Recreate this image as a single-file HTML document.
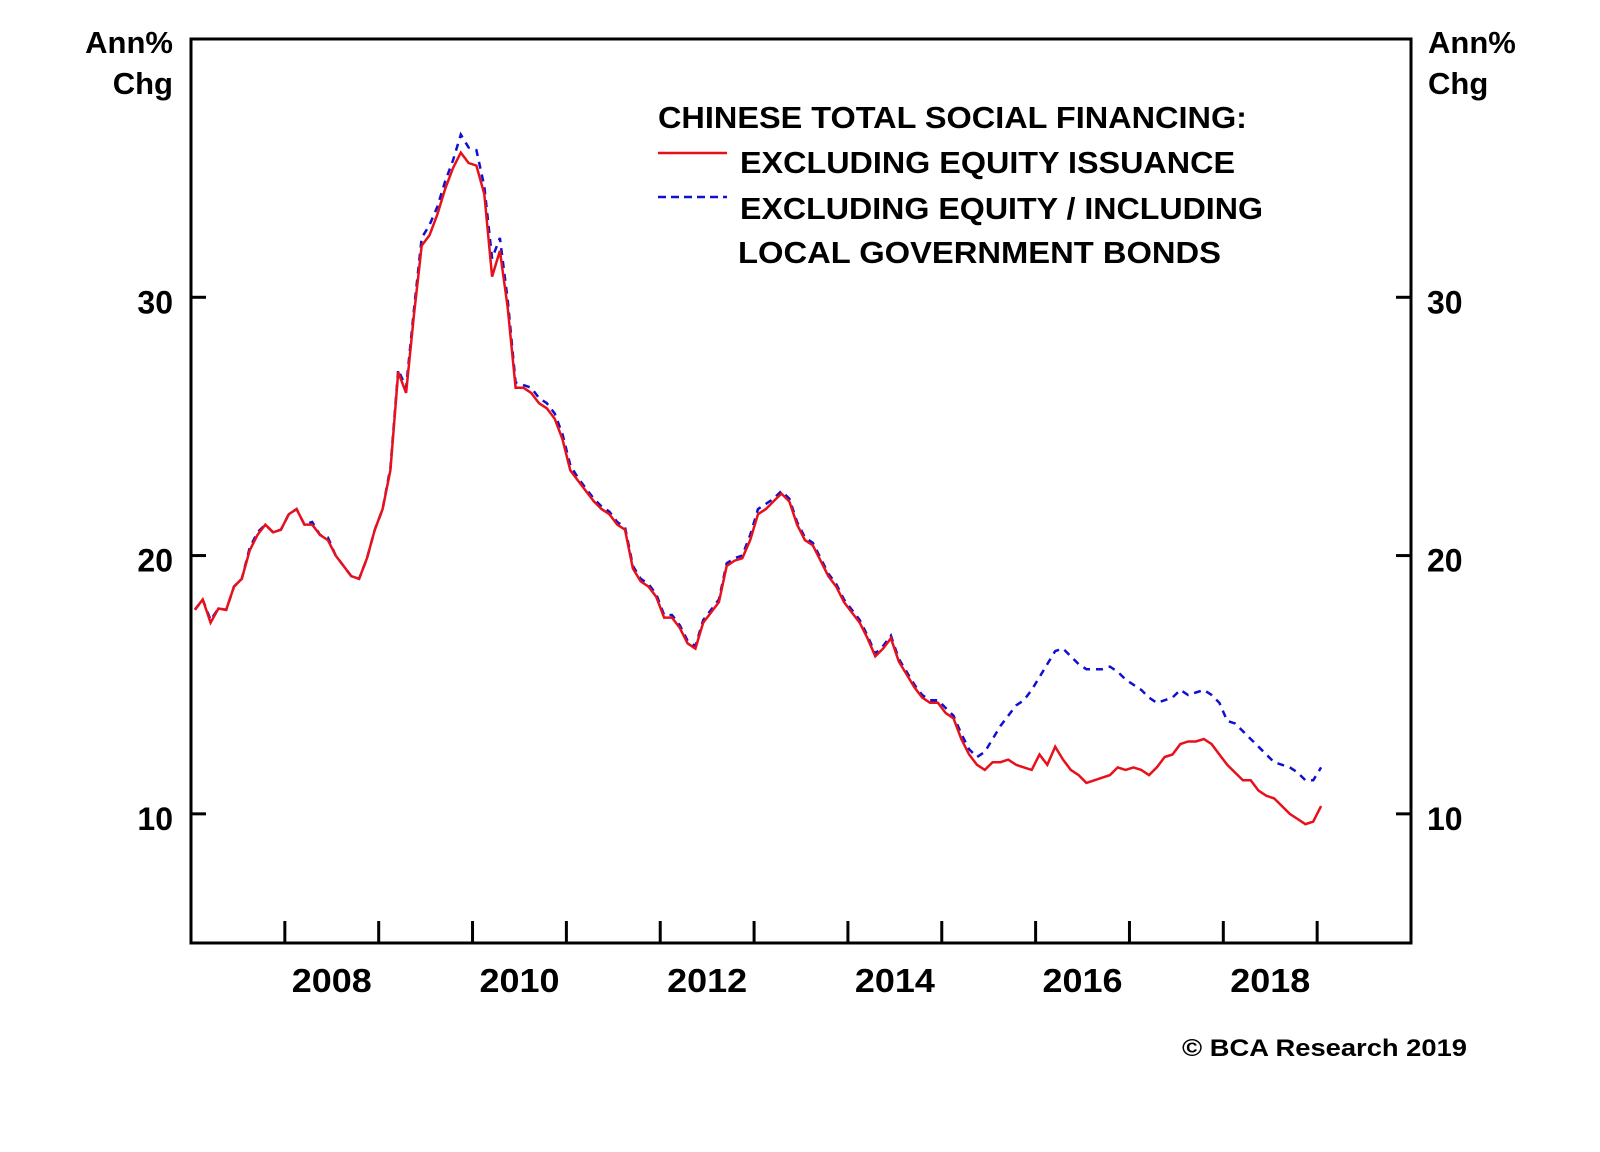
<!DOCTYPE html>
<html><head><meta charset="utf-8"><style>
html,body{margin:0;padding:0;background:#fff;}
svg{display:block;font-family:"Liberation Sans",Arial,sans-serif;font-weight:bold;}
</style></head><body>
<svg id="chart" width="1600" height="1152" viewBox="0 0 1600 1152" xmlns="http://www.w3.org/2000/svg">
<rect width="1600" height="1152" fill="#fff"/>
<g id="plot"></g>
<text x="173" y="53" text-anchor="end" font-size="31">Ann%</text>
<text x="173" y="94" text-anchor="end" font-size="31">Chg</text>
<text x="1428" y="53" font-size="31">Ann%</text>
<text x="1428" y="94" font-size="31">Chg</text>
<g>
<text x="658" y="128" font-size="31" textLength="589" lengthAdjust="spacingAndGlyphs">CHINESE TOTAL SOCIAL FINANCING:</text>
<line x1="658" y1="153" x2="727" y2="153" stroke="#e8101a" stroke-width="2.5"/>
<text x="740" y="173" font-size="31" textLength="495" lengthAdjust="spacingAndGlyphs">EXCLUDING EQUITY ISSUANCE</text>
<line x1="658" y1="197" x2="727" y2="197" stroke="#1010d0" stroke-width="2.5" stroke-dasharray="8,5"/>
<text x="740" y="219" font-size="31" textLength="523" lengthAdjust="spacingAndGlyphs">EXCLUDING EQUITY / INCLUDING</text>
<text x="738" y="263" font-size="31" textLength="483" lengthAdjust="spacingAndGlyphs">LOCAL GOVERNMENT BONDS</text>
</g>
<text x="1467" y="1056" text-anchor="end" font-size="24" textLength="285" lengthAdjust="spacingAndGlyphs">© BCA Research 2019</text>
</svg>
<script>
const startYear = 2007; // first observation Jan 2007, monthly
const redValues = [
17.9,18.3,17.4,17.95,17.9,18.8,19.1,20.2,20.8,21.2,20.9,21.0,
21.6,21.8,21.2,21.2,20.8,20.6,20.0,19.6,19.2,19.1,19.9,21.0,
21.8,23.3,27.1,26.3,29.3,32.0,32.4,33.2,34.2,35.0,35.6,35.2,
35.1,34.0,30.8,31.8,29.6,26.5,26.5,26.3,25.9,25.7,25.3,24.5,
23.3,22.9,22.5,22.1,21.8,21.6,21.2,21.0,19.5,19.0,18.8,18.4,
17.6,17.6,17.2,16.6,16.4,17.4,17.8,18.2,19.6,19.8,19.9,20.6,
21.6,21.8,22.1,22.4,22.1,21.2,20.6,20.4,19.8,19.2,18.8,18.2,
17.8,17.4,16.8,16.1,16.4,16.8,15.9,15.4,14.9,14.5,14.3,14.3,
13.9,13.7,12.9,12.3,11.9,11.7,12.0,12.0,12.1,11.9,11.8,11.7,
12.3,11.9,12.6,12.1,11.7,11.5,11.2,11.3,11.4,11.5,11.8,11.7,
11.8,11.7,11.5,11.8,12.2,12.3,12.7,12.8,12.8,12.9,12.7,12.3,
11.9,11.6,11.3,11.3,10.9,10.7,10.6,10.3,10.0,9.8,9.6,9.7,
10.3];
const blueValues = [
17.9,18.3,17.5,17.95,17.9,18.8,19.1,20.3,20.9,21.2,20.9,21.0,
21.6,21.8,21.2,21.3,20.8,20.7,20.0,19.6,19.2,19.1,19.9,21.0,
21.8,23.4,27.2,26.5,29.5,32.3,32.8,33.5,34.5,35.3,36.3,35.8,
35.7,34.3,31.5,32.3,29.9,26.7,26.6,26.5,26.1,25.9,25.5,24.7,
23.5,23.0,22.6,22.2,21.9,21.7,21.3,21.1,19.6,19.1,18.9,18.5,
17.7,17.7,17.3,16.7,16.5,17.5,17.9,18.3,19.7,19.9,20.0,20.8,
21.8,22.0,22.2,22.5,22.2,21.3,20.7,20.5,19.9,19.3,18.9,18.3,
17.9,17.5,16.9,16.2,16.5,16.9,16.0,15.5,15.0,14.6,14.4,14.4,
14.1,13.8,13.1,12.5,12.2,12.4,12.9,13.4,13.8,14.2,14.4,14.8,
15.3,15.8,16.3,16.4,16.1,15.8,15.6,15.6,15.6,15.7,15.5,15.2,
15.0,14.8,14.5,14.3,14.4,14.5,14.8,14.6,14.7,14.8,14.6,14.3,
13.6,13.5,13.2,12.9,12.6,12.3,12.0,11.9,11.8,11.6,11.3,11.3,
11.8];
const yTicks = [10,20,30];
const xLabels = [2008,2010,2012,2014,2016,2018];
const xTickYears = [2008,2009,2010,2011,2012,2013,2014,2015,2016,2017,2018,2019];

const L=191,R=1411,T=39,B=943, X0=2007,X1=2020, Y0=5,Y1=40;
const xs = t => L + (t - X0) / (X1 - X0) * (R - L);
const ys = v => B - (v - Y0) / (Y1 - Y0) * (B - T);
const NS="http://www.w3.org/2000/svg";
const plot=document.getElementById('plot');
function mk(tag,attrs,parent){const e=document.createElementNS(NS,tag);for(const k in attrs)e.setAttribute(k,attrs[k]);(parent||plot).appendChild(e);return e;}

const frame=mk('rect',{x:L,y:T,width:R-L,height:B-T,fill:'none',stroke:'#000','stroke-width':3});



yTicks.forEach(v=>{
  const y=ys(v);
  const tl=mk('line',{x1:L,y1:y,x2:L+15,y2:y,stroke:'#000','stroke-width':3});
  
  
  const tr=mk('line',{x1:R-15,y1:y,x2:R,y2:y,stroke:'#000','stroke-width':3});
  
  
  const a=mk('text',{x:173,y:y+16,'text-anchor':'end','font-size':32});
  a.textContent=v;
  
  
  const b=mk('text',{x:1427,y:y+16,'font-size':32});
  b.textContent=v;
  
  
});
xTickYears.forEach(yr=>{
  const x=xs(yr);
  const t=mk('line',{x1:x,y1:B,x2:x,y2:B-22,stroke:'#000','stroke-width':3});
  
  
});
xLabels.forEach(yr=>{
  const t=mk('text',{x:xs(yr+0.5),y:992,'text-anchor':'middle','font-size':33,textLength:80,lengthAdjust:'spacingAndGlyphs'});
  t.textContent=yr;
  
  
});
function pts(arr){return arr.map((v,i)=>xs(startYear+(i+0.5)/12).toFixed(1)+','+ys(v).toFixed(1)).join(' ');}
const red=mk('polyline',{points:pts(redValues),fill:'none',stroke:'#e8101a','stroke-width':2.5,'stroke-linejoin':'miter'});


const blue=mk('polyline',{points:pts(blueValues),fill:'none',stroke:'#1010d0','stroke-width':2.5,'stroke-dasharray':'7,6'});


plot.insertBefore(blue,red);
</script>
</body></html>
